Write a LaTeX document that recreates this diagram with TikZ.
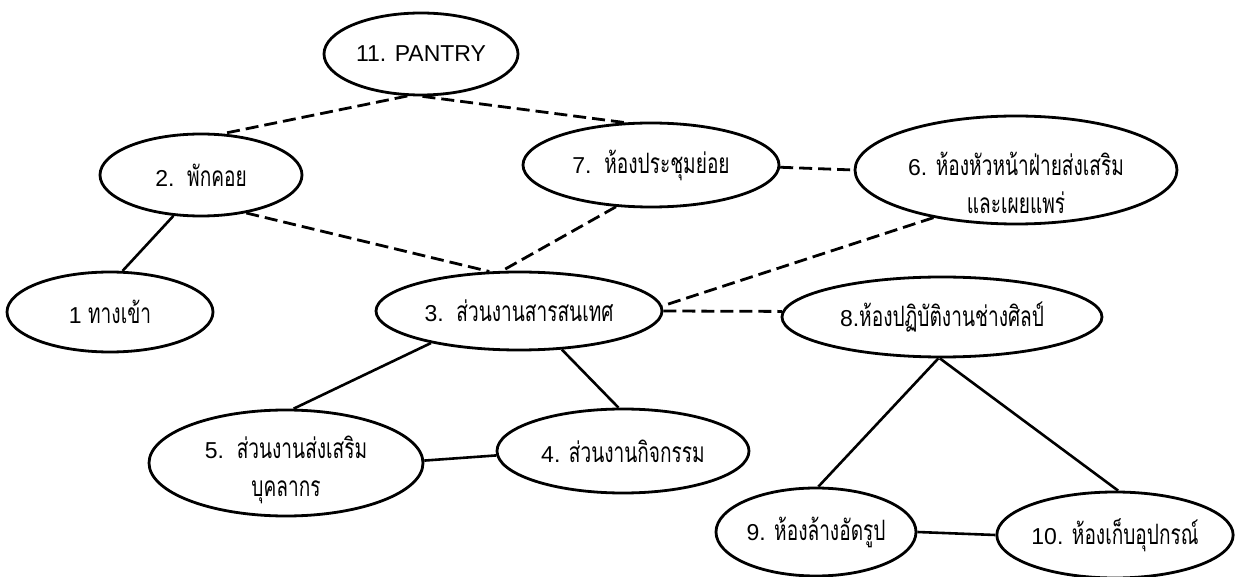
\documentclass[tikz,border=0pt]{standalone}
\usepackage{fontspec}
\setmainfont{Liberation Sans}
\newfontfamily\thai[Script=Thai,Scale=1.22,FakeStretch=0.68]{Loma}
\usetikzlibrary{shapes.geometric}
\tikzset{
  room/.style={draw, ellipse, line width=2.8pt, inner sep=0pt, align=center,
    font=\fontsize{23}{38}\selectfont},
  lbl/.style={inner sep=0pt, align=center, font=\fontsize{23}{38}\selectfont},
  dsh/.style={line width=2.8pt, dash pattern=on 13pt off 6pt},
  sol/.style={line width=2.6pt}
}
\begin{document}
\begin{tikzpicture}[x=1pt,y=-1pt]
\fill[white] (0,0) rectangle (1243,577);
\useasboundingbox (0,0) rectangle (1243,577);

\node[room, minimum width=194pt, minimum height=82pt] (n11) at (421,54) {11. PANTRY};
\node[room, minimum width=202pt, minimum height=82pt] (n2) at (201,175) {2.\ \ {\thai พักคอย}};
\node[room, minimum width=206pt, minimum height=80pt] (n1) at (110,312) {1 {\thai ทางเข้า}};
\node[room, minimum width=256pt, minimum height=84pt] (n7) at (651,165) {7.\ \ {\thai ห้องประชุมย่อย}};
\node[room, minimum width=322pt, minimum height=108pt] (n6) at (1016,170) {};
\node[lbl] (t6) at ([yshift=-13pt]n6.center) {6. {\thai ห้องหัวหน้าฝ่ายส่งเสริม}\\{\thai และเผยแพร่}};
\node[room, minimum width=286pt, minimum height=78pt] (n3) at (519,311) {3.\ \ {\thai ส่วนงานสารสนเทศ}};
\node[room, minimum width=320pt, minimum height=80pt] (n8) at (942,317) {8.{\thai ห้องปฏิบัติงานช่างศิลป์}};
\node[room, minimum width=274pt, minimum height=106pt] (n5) at (286,463) {};
\node[lbl] (t5) at ([yshift=-7pt]n5.center) {5.\ \ {\thai ส่วนงานส่งเสริม}\\{\thai บุคลากร}};
\node[room, minimum width=252pt, minimum height=84pt] (n4) at (623,451) {4. {\thai ส่วนงานกิจกรรม}};
\node[room, minimum width=200pt, minimum height=88pt] (n9) at (816,532) {9. {\thai ห้องล้างอัดรูป}};
\node[room, minimum width=236pt, minimum height=86pt] (n10) at (1115,535) {10. {\thai ห้องเก็บอุปกรณ์}};

% dashed connectors
\draw[dsh] (n11.252) -- (n2.62);
\draw[dsh] (n11.272) -- (n7.122);
\draw[dsh] (n2.320) -- (n3.127);
\draw[dsh] (n7.230) -- (n3.113);
\draw[dsh] (n7.-1) -- (n6.180);
\draw[dsh] (n6.210) -- (n3.2);
\draw[dsh] (n3.0) -- (n8.178);

% solid connectors
\draw[sol] (n2.236) -- (n1.73);
\draw[sol] (n3.200) -- (n5.82);
\draw[sol] (n3.318) -- (n4.96);
\draw[sol] (n5.1) -- (n4.182);
\draw[sol] (n8.265) -- (n9.87);
\draw[sol] (n8.267) -- (n10.86);
\draw[sol] (n9.0) -- (n10.180);
\end{tikzpicture}
\end{document}
